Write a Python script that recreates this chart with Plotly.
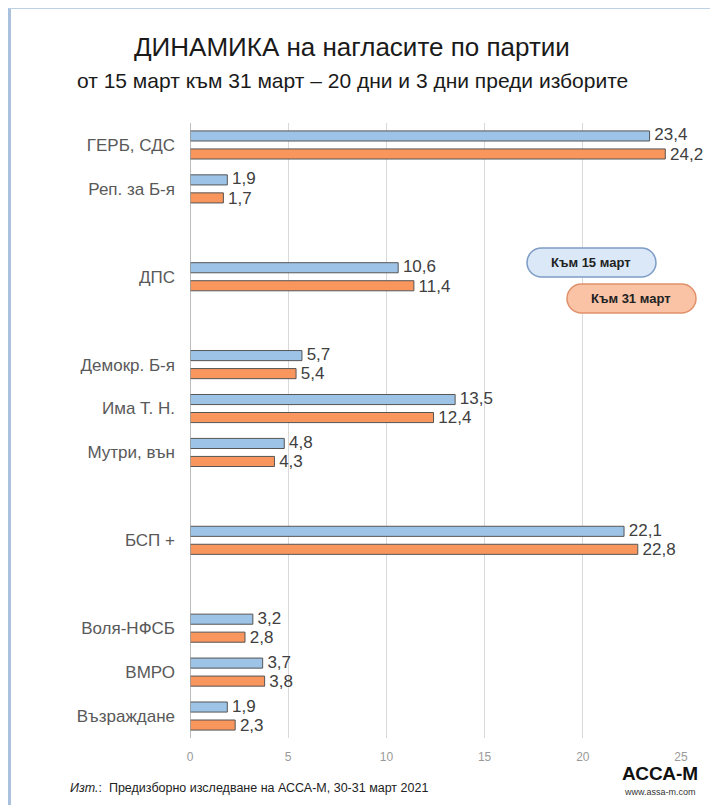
import plotly.graph_objects as go

# ---- data ----
slots = ["ГЕРБ, СДС", "Реп. за Б-я", None, "ДПС", None, "Демокр. Б-я", "Има Т. Н.",
         "Мутри, вън", None, "БСП +", None, "Воля-НФСБ", "ВМРО", "Възраждане"]
parties = [s for s in slots if s is not None]
mar15 = [23.4, 1.9, 10.6, 5.7, 13.5, 4.8, 22.1, 3.2, 3.7, 1.9]
mar31 = [24.2, 1.7, 11.4, 5.4, 12.4, 4.3, 22.8, 2.8, 3.8, 2.3]
xticks = [0, 5, 10, 15, 20, 25]

pos = [i for i, s in enumerate(slots) if s is not None]

OFF = 8  # page body margin
W, H = 718 - OFF, 805 - OFF
L, R, T, B = 190 - OFF, 681 - OFF, 123 - OFF, 738 - OFF


def px(x):  # x in reference-screen pixels
    return (x - OFF - L) / (R - L)


def py(y):
    return (B - (y - OFF)) / (B - T)


def fmt(v):
    return " " + f"{v:.1f}".replace(".", ",")


lblfont = dict(size=17, color="#404040", family="Liberation Sans")

fig = go.Figure()
fig.add_trace(go.Bar(
    y=pos, x=mar15, orientation="h", name="Към 15 март",
    marker=dict(color="#9DC3E6", line=dict(color="#555555", width=1)),
))
fig.add_trace(go.Bar(
    y=pos, x=mar31, orientation="h", name="Към 31 март",
    marker=dict(color="#F9965D", line=dict(color="#555555", width=1)),
))
fig.add_trace(go.Scatter(
    y=[p - 0.2 for p in pos], x=mar15, mode="text",
    text=[fmt(v) for v in mar15], textposition="middle right",
    textfont=lblfont, cliponaxis=False, hoverinfo="skip",
))
fig.add_trace(go.Scatter(
    y=[p + 0.24 for p in pos], x=mar31, mode="text",
    text=[fmt(v) for v in mar31], textposition="middle right",
    textfont=lblfont, cliponaxis=False, hoverinfo="skip",
))


def pill(x0, y0, x1, y1):
    r = (y1 - y0) / 2
    k = 0.5523 * r
    pts = [
        ("M", [(x0 + r, y0)]),
        ("L", [(x1 - r, y0)]),
        ("C", [(x1 - r + k, y0), (x1, y0 + r - k), (x1, y0 + r)]),
        ("C", [(x1, y0 + r + k), (x1 - r + k, y1), (x1 - r, y1)]),
        ("L", [(x0 + r, y1)]),
        ("C", [(x0 + r - k, y1), (x0, y0 + r + k), (x0, y0 + r)]),
        ("C", [(x0, y0 + r - k), (x0 + r - k, y0), (x0 + r, y0)]),
    ]
    s = ""
    for cmd, ps in pts:
        s += cmd + " " + " ".join(f"{px(a):.5f},{py(b):.5f}" for a, b in ps) + " "
    return s + "Z"


shapes = [
    dict(type="path", xref="paper", yref="paper", path=pill(527, 248, 656, 277),
         fillcolor="#DAE8F7", line=dict(color="#7E9CC6", width=1.5)),
    dict(type="path", xref="paper", yref="paper", path=pill(567, 284, 696, 313),
         fillcolor="#FBC3A6", line=dict(color="#E0916A", width=1.5)),
    dict(type="line", xref="paper", yref="paper", x0=px(9.5), x1=px(9.5), y0=py(8), y1=py(810),
         line=dict(color="#A9C1DD", width=3)),
    dict(type="line", xref="paper", yref="paper", x0=px(9), x1=px(720), y0=py(8.5), y1=py(8.5),
         line=dict(color="#BCD0E6", width=1)),
    dict(type="line", xref="x", yref="paper", x0=0, x1=0, y0=0, y1=1,
         line=dict(color="#A6A6A6", width=1.5)),
]

annotations = [
    dict(text="<b>Към 15 март</b>", xref="paper", yref="paper", x=px(591), y=py(262.5),
         showarrow=False, font=dict(size=13, color="#222222", family="Liberation Sans"),
         xanchor="center", yanchor="middle"),
    dict(text="<b>Към 31 март</b>", xref="paper", yref="paper", x=px(631), y=py(298.5),
         showarrow=False, font=dict(size=13, color="#222222", family="Liberation Sans"),
         xanchor="center", yanchor="middle"),
    dict(text="ДИНАМИКА на нагласите по партии", xref="paper", yref="paper",
         x=px(352), y=py(47), showarrow=False, xanchor="center", yanchor="middle",
         font=dict(size=26, color="#1A1A1A", family="Liberation Sans")),
    dict(text="от 15 март към 31 март – 20 дни и 3 дни преди изборите", xref="paper", yref="paper",
         x=px(352), y=py(80), showarrow=False, xanchor="center", yanchor="middle",
         font=dict(size=21, color="#1A1A1A", family="Liberation Sans")),
    dict(text="<i>Изт.</i>:  Предизборно изследване на АССА-М, 30-31 март 2021", xref="paper", yref="paper",
         x=px(68), y=py(788), showarrow=False, xanchor="left", yanchor="middle",
         font=dict(size=12.5, color="#222222", family="Liberation Sans")),
    dict(text="<b>АССА-М</b>", xref="paper", yref="paper",
         x=px(660), y=py(773), showarrow=False, xanchor="center", yanchor="middle",
         font=dict(size=19, color="#111111", family="Liberation Sans")),
    dict(text="www.assa-m.com", xref="paper", yref="paper",
         x=px(660), y=py(792), showarrow=False, xanchor="center", yanchor="middle",
         font=dict(size=9, color="#333333", family="Liberation Sans")),
]

fig.update_layout(
    width=W, height=H,
    margin=dict(l=L, r=W - R, t=T, b=H - B),
    paper_bgcolor="white", plot_bgcolor="white",
    showlegend=False,
    barmode="group", bargap=0.18, bargroupgap=0.44,
    shapes=shapes, annotations=annotations,
    font=dict(family="Liberation Sans"),
)
fig.update_xaxes(range=[0, 25], tickvals=xticks, ticktext=[str(t) for t in xticks],
                 showgrid=True, gridcolor="#D9D9D9", gridwidth=1, zeroline=False,
                 showline=False, ticks="", ticklabelstandoff=10,
                 tickfont=dict(size=12, color="#9A9A9A"))
fig.update_yaxes(range=[len(slots) - 0.5, -0.5], tickvals=pos, ticktext=parties,
                 showgrid=False, zeroline=False, showline=False, ticks="",
                 ticklabelstandoff=14, tickfont=dict(size=17, color="#595959"))

fig.write_html("out.html")
